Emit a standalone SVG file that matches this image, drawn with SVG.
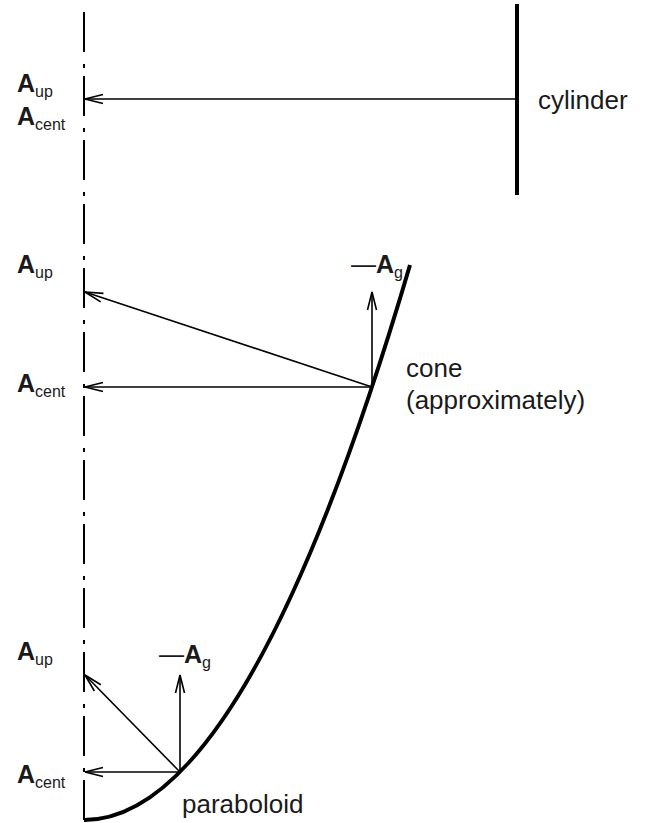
<svg xmlns="http://www.w3.org/2000/svg" width="646" height="823" viewBox="0 0 646 823">
<defs>
<marker id="arr" markerUnits="userSpaceOnUse" markerWidth="24" markerHeight="14" viewBox="-20 -7 24 14" refX="0" refY="0" orient="auto">
<path d="M-18,-4.5 L0,0 L-18,4.5" fill="none" stroke="#000" stroke-width="1.6"/>
</marker>
</defs>
<style>
text{font-family:"Liberation Sans",Arial,sans-serif;fill:#1a1a1a}
.lbl{font-size:25px}
.b{font-weight:bold}
.sub{font-size:16px}
.name{font-size:26px}
.thin{stroke:#000;stroke-width:1.6;fill:none}
.thick{stroke:#000;stroke-width:4;fill:none}
</style>
<rect width="646" height="823" fill="#fff"/>
<g id="axis">
<line x1="84" y1="12" x2="84" y2="820" stroke="#000" stroke-width="2" stroke-dasharray="40 12 4 8"/>
</g>
<g id="cylinder">
<line class="thick" x1="517" y1="4" x2="517" y2="195"/>
<text class="name" x="538" y="109">cylinder</text>
</g>
<g id="cone">
<path class="thick" d="M84,820 Q247,820 410,265"/>
<text class="name" x="406" y="377">cone</text>
<text class="name" x="406" y="409">(approximately)</text>
<text class="lbl" x="351" y="273">—<tspan class="b">A</tspan><tspan class="sub" dy="5">g</tspan></text>
</g>
<g id="paraboloid">
<text class="name" x="182" y="813">paraboloid</text>
<text class="lbl" x="159" y="663">—<tspan class="b">A</tspan><tspan class="sub" dy="5">g</tspan></text>
</g>
<g id="labels">
<text class="lbl b" x="17" y="92">A<tspan class="sub" font-weight="normal" dy="5">up</tspan></text>
<text class="lbl b" x="17" y="125">A<tspan class="sub" font-weight="normal" dy="5">cent</tspan></text>
<text class="lbl b" x="17" y="273">A<tspan class="sub" font-weight="normal" dy="5">up</tspan></text>
<text class="lbl b" x="17" y="392">A<tspan class="sub" font-weight="normal" dy="5">cent</tspan></text>
<text class="lbl b" x="17" y="660">A<tspan class="sub" font-weight="normal" dy="5">up</tspan></text>
<text class="lbl b" x="17" y="783">A<tspan class="sub" font-weight="normal" dy="5">cent</tspan></text>
</g>
<g id="connectors">
<line class="thin" x1="517" y1="99" x2="85" y2="99" marker-end="url(#arr)"/>
<line class="thin" x1="372" y1="387" x2="85" y2="292" marker-end="url(#arr)"/>
<line class="thin" x1="372" y1="387" x2="85" y2="387" marker-end="url(#arr)"/>
<line class="thin" x1="372" y1="387" x2="372" y2="292" marker-end="url(#arr)"/>
<line class="thin" x1="180" y1="772" x2="85" y2="675" marker-end="url(#arr)"/>
<line class="thin" x1="180" y1="772" x2="85" y2="772" marker-end="url(#arr)"/>
<line class="thin" x1="180" y1="772" x2="180" y2="675" marker-end="url(#arr)"/>
</g>
</svg>
